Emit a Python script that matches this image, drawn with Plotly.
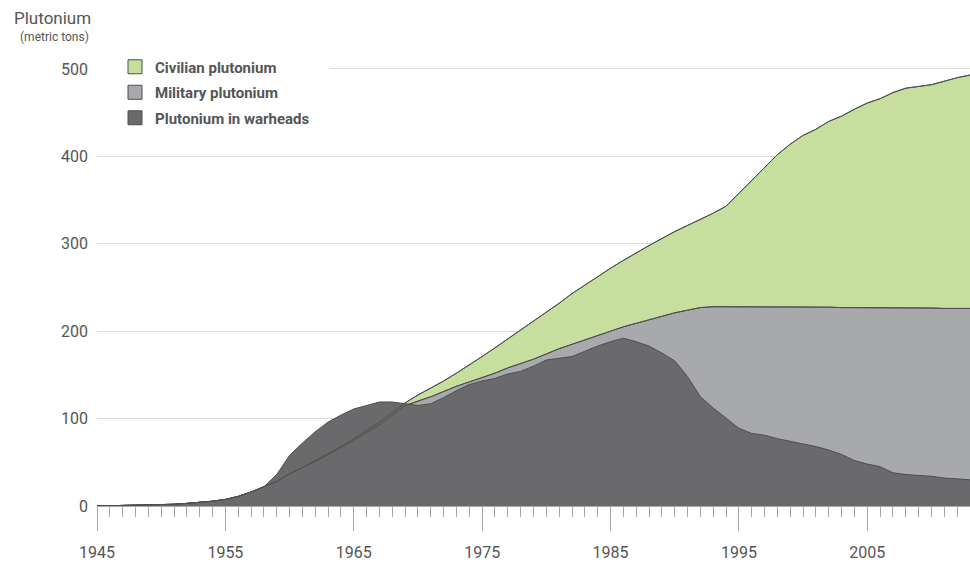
import plotly.graph_objects as go

years = list(range(1945, 2014))

# total stock (top of the green area)
civilian = [0, 0.3, 0.5, 0.8, 1, 1.5, 2, 3, 4, 5.5,
            7.5, 11, 16, 22, 28, 37, 44, 52, 60, 68,
            77, 86, 96, 107, 118, 127, 135, 143, 152, 161,
            171, 181, 191, 201, 211, 221, 232, 243, 253, 263,
            272, 281, 290, 298, 306, 314, 321, 328, 335, 343,
            358, 372, 388, 402, 414, 424, 431, 440, 446, 454,
            461, 466, 473, 478, 480, 482, 486, 490, 493]

military = [0, 0.3, 0.5, 0.8, 1, 1.5, 2, 3, 4, 5.5,
            7.5, 11, 16, 22, 28, 37, 44, 51, 59, 67,
            75, 84, 93, 104, 115, 120, 125, 131, 137, 142,
            147, 152, 158, 163, 168, 174, 180, 185, 190, 195,
            200, 205, 209, 213, 217, 221, 224, 227, 228, 228,
            228, 228, 228, 228, 227.5, 227.5, 227.5, 227.5, 227, 227,
            227, 227, 227, 226.5, 226.5, 226.5, 226, 226, 226]

warheads = [0, 0.3, 0.5, 0.8, 1, 1.5, 2, 3, 4, 5.5,
            7.5, 11, 16, 22, 36, 58, 72, 85, 96, 104,
            111, 115, 119, 119, 117, 115, 117, 124, 132, 139,
            143, 146, 151, 154, 160, 167, 169, 171, 177, 183,
            188, 192, 188, 183, 175, 166, 148, 125, 112, 100,
            89, 83, 81, 77, 74, 71, 68, 64, 59, 52,
            48, 45, 38, 36, 35, 34, 32, 31, 30]

names = ["Civilian plutonium", "Military plutonium", "Plutonium in warheads"]
colors = ["#c6df9f", "#a8a9ad", "#6a6a6c"]
edge = "#4f4f4f"
txt = "#555555"

fig = go.Figure()

# filled areas, back to front
for vals, col in zip([civilian, military, warheads], colors):
    fig.add_trace(go.Scatter(x=years, y=vals, fill="tozeroy", fillcolor=col,
                             mode="lines", line=dict(color=edge, width=1),
                             showlegend=False, hoverinfo="skip"))

# outlines of the total and military stock stay visible over the dark area
for vals in [civilian, military]:
    fig.add_trace(go.Scatter(x=years, y=vals, mode="lines",
                             line=dict(color=edge, width=1),
                             showlegend=False, hoverinfo="skip"))

# legend entries as squares
for i, (nm, col) in enumerate(zip(names, colors)):
    fig.add_trace(go.Scatter(x=[None], y=[None], mode="markers", name=nm,
                             legendgroup=str(i),
                             marker=dict(symbol="square", size=14, color=col,
                                         line=dict(color=edge, width=1))))

fig.update_layout(
    width=970, height=562,
    margin=dict(l=97, r=0, t=34, b=54),
    paper_bgcolor="white", plot_bgcolor="white",
    font=dict(family="Roboto, sans-serif", color=txt),
    legend=dict(x=0, y=0.965, xanchor="left", yanchor="top",
                bgcolor="white", indentation=18, tracegroupgap=3,
                font=dict(size=15, color=txt, weight="bold")),
    xaxis=dict(range=[1945, 2013], tick0=1945, dtick=10,
               ticks="outside", ticklen=24, tickcolor="#a8a8a8", tickwidth=1,
               showline=True, linecolor="#a8a8a8", linewidth=1,
               showgrid=False, zeroline=False,
               tickfont=dict(size=16, color=txt), ticklabelstandoff=8,
               minor=dict(dtick=1, ticks="outside", ticklen=10,
                          tickcolor="#a8a8a8", showgrid=False)),
    yaxis=dict(range=[0, 540], tickvals=[0, 100, 200, 300, 400, 500],
               showgrid=True, gridcolor="rgba(0,0,0,0.14)", gridwidth=1,
               zeroline=False, layer="above traces",
               tickfont=dict(size=16, color=txt), ticklabelstandoff=8),
    # white panel behind the key, so the 500 gridline starts after it
    shapes=[dict(type="rect", xref="paper", yref="paper", layer="above",
                 x0=0, x1=(330 - 97) / 873, y0=(508 - 84) / 474, y1=(508 - 54) / 474,
                 fillcolor="white", line=dict(width=0))],
    annotations=[
        dict(text="Plutonium", x=12, y=18, xref="paper", yref="paper",
             showarrow=False, font=dict(size=17, color=txt),
             xanchor="left", yanchor="middle"),
        dict(text="(metric tons)", x=18, y=37, xref="paper", yref="paper",
             showarrow=False, font=dict(size=12, color=txt),
             xanchor="left", yanchor="middle"),
    ],
)

# title annotations given in page pixels, converted to plot-area fractions
for a in fig.layout.annotations:
    a.x = (a.x - 97) / 873
    a.y = (508 - a.y) / 474

# drop the default body margin so the figure fills the window exactly
fig.write_html("out.html", config={"displayModeBar": False},
               post_script="document.body.style.margin='0';"
                           "document.body.style.overflow='hidden';")
